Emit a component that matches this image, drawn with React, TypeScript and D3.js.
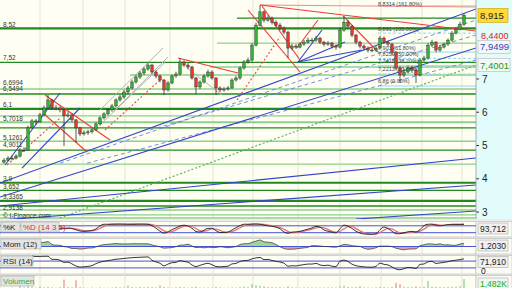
import React from "react";
import * as d3 from "d3";

// ---------- DATA ----------
const firstOpen = 4.5;
const closes = [
  4.56, 4.62, 4.62, 4.68, 4.86, 4.86, 5.53, 5.74, 5.71, 5.92,
  6.13, 6.37, 6.13, 6.13, 6.07, 5.89, 5.92, 5.77, 5.53, 5.35,
  5.38, 5.41, 5.47, 5.65, 5.83, 5.95, 6.07, 6.19, 6.37, 6.46,
  6.61, 6.73, 6.91, 7.06, 7.18, 7.30, 7.42, 7.21, 7.09, 6.97,
  6.67, 6.88, 7.09, 7.15, 7.51, 7.42, 7.36, 7.03, 6.76, 6.91,
  7.09, 7.21, 7.03, 6.73, 6.67, 6.70, 6.73, 6.97, 7.03, 7.33,
  7.51, 7.57, 8.02, 8.62, 9.02, 8.77, 8.83, 8.71, 8.62, 8.53,
  8.41, 7.93, 7.99, 7.96, 8.05, 8.11, 8.17, 8.17, 8.23, 8.11,
  8.05, 8.08, 7.99, 7.96, 8.47, 8.71, 8.59, 8.32, 8.11, 7.99,
  7.93, 7.87, 7.87, 7.93, 8.23, 8.11, 8.05, 7.81, 7.33, 7.12,
  7.21, 7.33, 7.27, 7.12, 7.57, 7.63, 8.02, 8.11, 7.87, 7.96,
  8.05, 8.17, 8.38, 8.50, 8.65, 8.915,
];
const highs = [
  4.62, 4.68, 4.70, 4.74, 4.92, 4.95, 5.60, 5.80, 5.80, 5.98,
  6.20, 6.52, 6.40, 6.22, 6.18, 6.10, 6.02, 5.96, 5.80, 5.56,
  5.45, 5.48, 5.52, 5.70, 5.88, 6.00, 6.12, 6.25, 6.42, 6.52,
  6.68, 6.80, 6.98, 7.12, 7.24, 7.36, 7.51, 7.46, 7.26, 7.14,
  7.00, 6.94, 7.14, 7.22, 7.63, 7.56, 7.48, 7.40, 7.06, 6.96,
  7.14, 7.28, 7.26, 7.06, 6.78, 6.76, 6.79, 7.02, 7.09, 7.38,
  7.57, 7.64, 8.08, 8.70, 9.22, 9.06, 8.92, 8.88, 8.76, 8.68,
  8.58, 8.45, 8.06, 8.05, 8.10, 8.17, 8.24, 8.24, 8.30, 8.27,
  8.15, 8.14, 8.12, 8.04, 8.54, 8.89, 8.78, 8.62, 8.36, 8.15,
  8.04, 7.98, 7.94, 7.98, 8.30, 8.28, 8.15, 8.08, 7.84, 7.38,
  7.30, 7.40, 7.40, 7.32, 7.62, 7.70, 8.08, 8.18, 8.14, 8.02,
  8.10, 8.22, 8.44, 8.56, 8.72, 8.98,
];
const lows = [
  4.46, 4.52, 4.55, 4.58, 4.64, 4.80, 4.84, 5.50, 5.62, 5.68,
  5.88, 6.10, 6.08, 6.06, 6.00, 4.98, 5.84, 5.70, 5.08, 5.28,
  5.30, 5.32, 5.36, 5.44, 5.60, 5.78, 5.90, 6.02, 6.15, 6.32,
  6.40, 6.55, 6.68, 6.86, 7.00, 7.12, 7.25, 7.15, 7.02, 6.90,
  6.52, 6.62, 6.84, 7.04, 7.10, 7.36, 7.30, 6.98, 6.55, 6.70,
  6.86, 7.04, 6.98, 6.52, 6.60, 6.62, 6.65, 6.70, 6.92, 6.98,
  7.28, 7.46, 7.52, 7.98, 8.58, 8.70, 8.72, 8.64, 8.56, 8.46,
  8.34, 7.63, 7.86, 7.90, 7.92, 8.00, 8.06, 8.10, 8.12, 8.05,
  7.98, 8.00, 7.92, 7.88, 7.92, 8.42, 8.52, 8.26, 8.04, 7.92,
  7.86, 7.80, 7.80, 7.82, 7.90, 8.05, 7.98, 7.72, 7.26, 6.88,
  7.05, 7.16, 7.18, 6.88, 7.08, 7.52, 7.58, 7.96, 7.80, 7.82,
  7.92, 8.00, 8.12, 8.34, 8.46, 8.60,
];
const volumes = [
  180, 150, 220, 160, 600, 260, 420, 300, 200, 380,
  260, 320, 240, 200, 260, 1400, 300, 240, 1300, 280,
  200, 180, 220, 160, 240, 200, 180, 220, 300, 260,
  240, 520, 280, 240, 300, 260, 320, 280, 240, 520,
  300, 220, 200, 260, 300, 240, 200, 280, 340, 220,
  200, 240, 200, 300, 220, 180, 200, 240, 220, 300,
  360, 320, 700, 560, 480, 380, 300, 260, 240, 280,
  220, 400, 260, 220, 200, 240, 260, 220, 240, 200,
  220, 260, 240, 200, 380, 500, 300, 260, 280, 420,
  240, 220, 200, 240, 300, 260, 220, 300, 900, 700,
  320, 280, 260, 400, 300, 360, 1200, 380, 300, 280,
  260, 300, 340, 360, 420, 1482,
];
// date-boundary grid (candle index)
const gridIdx = [9, 19.75, 30.25, 41.5, 52.25, 62.25, 73.5, 84, 94.25, 104.5, 114.5];

// horizontal support / resistance levels: price, start index, kind
const levelPrices = [8.83, 8.52, 8.08, 7.50, 7.36, 7.12, 6.6994, 6.5494, 6.1, 5.89, 5.7018, 5.53, 5.1261, 4.86, 4.44, 3.88, 3.652, 3.3365, 3.18, 3.06, 2.9138, 2.82];
const levelStart = [58.25, -1, 53.25, -1, 51.5, 31.5, -1, -1, -1, -1, -1, -1, -1, -1, -1, -1, -1, -1, -1, -1, -1, -1];
const levelKind = ["d", "t", "l", "d", "l", "l", "l", "d", "t", "l", "L", "d", "l", "d", "l", "t", "d", "t", "d", "l", "l", "l"];
const leftLabels = ["8,52", "7,52", "6,6994", "6,5494", "6,1", "5,7018", "5,1261", "4,9011", "3,9", "3,652", "3,3365", "2,9138"];
const leftLabelPrices = [8.52, 7.52, 6.76, 6.58, 6.1, 5.7018, 5.1261, 4.9011, 3.9, 3.652, 3.3365, 3.015];

// fibonacci block
const fibPrices = [9.20, 8.38, 7.81, 7.62, 7.40, 7.15, 6.79];
const fibLabels = ["8,8314 (161.80%)", "8,891 (100.00%)", "7,901 (61.80%)", "7,8259 (50.00%)", "7,7418 (38.20%)", "7,2213 (23.60%)", "6,86 (0.00%)"];
const fibLabelPrices = [9.20, 8.44, 7.87, 7.69, 7.47, 7.24, 6.88];

// trend lines [i1, p1, i2, p2]
const blueLines = [
  [-1, 3.872, 118, 9.105], [-1, 3.451, 118, 7.932], [-1, 3.18, 118, 4.624],
  [-1, 2.759, 118, 3.812], [88, 2.789, 118, 3.03], [0.25, 4.414, 14, 6.579],
  [4.5, 4.323, 19, 6.128], [73.5, 7.511, 79.5, 8.474], [73.5, 7.511, 85.25, 8.113],
  [73.5, 7.511, 89.5, 7.872],
];
const blueDashed = [
  [14, 4.466, 118, 8.774], [20.75, 4.466, 118, 7.571], [36.5, 5.466, 118, 8.324],
];
const redLines = [
  [64, 9.226, 118, 8.444], [64.5, 9.195, 74, 7.571], [61, 9.075, 74, 7.211],
  [84.75, 8.895, 93.5, 7.812], [73.25, 7.932, 78.5, 8.774], [10.25, 6.519, 26.5, 5.165],
  [9.75, 5.978, 20.75, 4.805], [43.5, 7.632, 58.5, 7.18],
];
const redLight = [[64, 9.226, 118, 9.165]];
const redDotted = [
  [0.75, 4.414, 14, 5.827], [25.25, 5.466, 39, 6.97], [58.25, 6.368, 69, 8.263],
];
const greenDotted = [[14, 2.82, 118, 7.42]];
const grayLines = [
  [24, 6.068, 39.75, 7.932], [27.25, 6.008, 41, 7.662], [24, 5.616, 40.25, 7.496],
  [45.75, 7.331, 54.5, 6.519],
];
const rightTicks = [7, 6, 5, 4, 3];

// ---------- helpers ----------
const sma = (a: (number | null)[], p: number) =>
  a.map((_, i) => {
    if (i < p - 1) return null;
    const s = a.slice(i - p + 1, i + 1);
    if (s.some((v) => v == null)) return null;
    return d3.mean(s as number[]) as number;
  });

export default function App() {
  const W = 512, H = 288, R = 476, mainB = 219;
  const n = closes.length;
  const opens = closes.map((c, i) => (i === 0 ? firstOpen : closes[i - 1]));
  const x = d3.scaleLinear().domain([0, n - 1]).range([4, 464]);
  const y = d3.scaleLinear().domain([3, 7]).range([212, 79]);

  // indicators
  const kP = 7;
  const raw = closes.map((c, i) => {
    if (i < kP - 1) return null;
    const hh = d3.max(highs.slice(i - kP + 1, i + 1)) as number;
    const ll = d3.min(lows.slice(i - kP + 1, i + 1)) as number;
    return (100 * (c - ll)) / (hh - ll);
  });
  const kLine = sma(raw, 2);
  const dLine = sma(kLine, 3);
  const mom = closes.map((c, i) => (i < 6 ? null : c - closes[i - 6]));
  const rsi: (number | null)[] = [];
  let ag = 0, al = 0;
  const rP = 7;
  closes.forEach((c, i) => {
    if (i === 0) { rsi.push(null); return; }
    const ch = c - closes[i - 1];
    const g = Math.max(ch, 0), l = Math.max(-ch, 0);
    if (i <= rP) {
      ag += g / rP; al += l / rP;
      rsi.push(i === rP ? 100 - 100 / (1 + ag / (al || 1e-6)) : null);
    } else {
      ag = (ag * (rP - 1) + g) / rP;
      al = (al * (rP - 1) + l) / rP;
      rsi.push(100 - 100 / (1 + ag / (al || 1e-6)));
    }
  });

  const ySt = d3.scaleLinear().domain([0, 100]).range([235, 223.5]);
  const mMax = d3.max(mom, (v) => (v == null ? 0 : Math.abs(v))) as number;
  const yMom = d3.scaleLinear().domain([-mMax, mMax]).range([253, 240]);
  const yRsi = d3.scaleLinear().domain([0, 100]).range([273, 256]);
  const yVol = d3.scaleLinear().domain([0, d3.max(volumes) as number]).range([289, 279]);

  const lineGen = (ys: d3.ScaleLinear<number, number>) =>
    d3.line<number | null>()
      .defined((d) => d != null)
      .x((_, i) => x(i))
      .y((d) => ys(d as number))
      .curve(d3.curveMonotoneX);

  const momAreaPos = d3.area<number | null>()
    .defined((d) => d != null).x((_, i) => x(i))
    .y0(yMom(0)).y1((d) => yMom(Math.max(d as number, 0)));
  const momAreaNeg = d3.area<number | null>()
    .defined((d) => d != null).x((_, i) => x(i))
    .y0(yMom(0)).y1((d) => yMom(Math.min(d as number, 0)));

  const seg = (l: number[], key: string, stroke: string, w: number, dash?: string, op = 1) => (
    <line key={key} x1={x(l[0])} y1={y(l[1])} x2={x(l[2])} y2={y(l[3])}
      stroke={stroke} strokeWidth={w} strokeDasharray={dash} opacity={op} />
  );

  const font = "Liberation Sans, Arial, sans-serif";
  const panels = [
    { t: 221.5, b: 237 },
    { t: 238.5, b: 254 },
    { t: 255.5, b: 274 },
    { t: 275.5, b: 292 },
  ];

  return (
    <svg width={W} height={H} style={{ position: "absolute", left: 0, top: 0 }} fontFamily={font}>
      <rect x={0} y={0} width={W} height={H} fill="#ececec" />
      {/* main panel */}
      <rect x={0} y={0} width={R} height={mainB} fill="#fefef3" />
      <rect x={R} y={0} width={W - R} height={mainB} fill="#e2fcfc" />
      {panels.map((p, i) => (
        <g key={"pn" + i}>
          <rect x={0} y={p.t} width={R} height={p.b - p.t} fill="#fefef3" stroke="#c8c8c8" strokeWidth={0.8} />
          <rect x={R} y={p.t} width={W - R} height={p.b - p.t} fill="#fcfcf6" stroke="#c8c8c8" strokeWidth={0.8} />
        </g>
      ))}
      {/* vertical grid */}
      {gridIdx.map((g, i) => (
        <g key={"g" + i}>
          <line x1={x(g)} x2={x(g)} y1={0} y2={mainB} stroke="#e6e4d6" strokeWidth={1} />
          {panels.map((p, j) => (
            <line key={j} x1={x(g)} x2={x(g)} y1={p.t} y2={p.b} stroke="#e6e4d6" strokeWidth={1} />
          ))}
        </g>
      ))}
      <defs>
        <clipPath id="mc"><rect x={0} y={0} width={R} height={mainB} /></clipPath>
      </defs>
      <g clipPath="url(#mc)">
        {/* horizontal levels */}
        {levelPrices.map((p, i) => {
          const k = levelKind[i];
          const stroke = k === "l" || k === "L" ? "#8fcf8a" : "#1f8a1f";
          const w = k === "t" ? 2.2 : k === "L" ? 2 : k === "d" ? 1.3 : 1.4;
          return <line key={"lv" + i} x1={x(levelStart[i])} x2={R} y1={y(p)} y2={y(p)} stroke={stroke} strokeWidth={w} />;
        })}
        {/* fib lines */}
        {fibPrices.map((p, i) => (
          <line key={"fb" + i} x1={x(93.5)} x2={R} y1={y(p)} y2={y(p)} stroke="#8fd8f4" strokeWidth={1}
            strokeDasharray={i % 2 === 0 ? undefined : "3,2"} />
        ))}
        {grayLines.map((l, i) => seg(l, "gr" + i, "#b4b4b4", 1))}
        {greenDotted.map((l, i) => seg(l, "gd" + i, "#5cb85c", 1.2, "2,2"))}
        {blueDashed.map((l, i) => seg(l, "bd" + i, "#5577dd", 1, "4,3", 0.8))}
        {blueLines.map((l, i) => seg(l, "bl" + i, "#3344cc", 1.1))}
        {redDotted.map((l, i) => seg(l, "rd" + i, "#e84848", 1.1, "2,2"))}
        {redLight.map((l, i) => seg(l, "rl" + i, "#f08a8a", 1.2))}
        {redLines.map((l, i) => seg(l, "r" + i, "#ee3a3a", 1.1))}
        {/* candles */}
        {closes.map((c, i) => {
          const o = opens[i];
          const up = c >= o;
          const top = y(Math.max(o, c)), bot = y(Math.min(o, c));
          return (
            <g key={"c" + i}>
              <line x1={x(i)} x2={x(i)} y1={y(highs[i])} y2={y(lows[i])} stroke="#333" strokeWidth={0.8} />
              <rect x={x(i) - 1.3} y={top} width={2.6} height={Math.max(bot - top, 0.8)}
                fill={up ? "#33b233" : "#e03a2a"} stroke="#2a2a2a" strokeWidth={0.4} />
            </g>
          );
        })}
        {/* left labels */}
        {leftLabels.map((t, i) => (
          <text key={"ll" + i} x={3} y={y(leftLabelPrices[i]) - 1.5} fontSize={6.5} fill="#333">{t}</text>
        ))}
        {fibLabels.map((t, i) => (
          <text key={"fl" + i} x={x(93.5)} y={y(fibLabelPrices[i])} fontSize={5.5} fill="#444">{t}</text>
        ))}
        <text x={3} y={217.5} fontSize={6.5} fill="#333">© I-Finance.com</text>
      </g>
      {/* right axis main */}
      {rightTicks.map((t) => (
        <g key={"rt" + t}>
          <line x1={R} x2={R + 3} y1={y(t)} y2={y(t)} stroke="#333" />
          <text x={R + 6} y={y(t) + 3.5} fontSize={10} fill="#222">{t}</text>
        </g>
      ))}
      <line x1={R} x2={R} y1={0} y2={mainB} stroke="#9a9a9a" strokeWidth={0.8} />
      <text x={R + 5} y={y(7.9499) - 8} fontSize={9} fill="#e02020">8,4400</text>
      <rect x={R + 2} y={y(7.9499) - 7} width={32} height={13} fill="#f4f8f8" stroke="#b8b8b8" strokeWidth={0.6} />
      <text x={R + 4} y={y(7.9499) + 3} fontSize={9.5} fill="#3344bb">7,9499</text>
      <rect x={R + 2} y={y(7.4001) - 7} width={32} height={13} fill="#f4f8f4" stroke="#b8b8b8" strokeWidth={0.6} />
      <text x={R + 4} y={y(7.4001) + 3} fontSize={9.5} fill="#229922">7,4001</text>
      <rect x={R + 2} y={y(8.915) - 7} width={30} height={14} fill="#ffd83a" stroke="#caa000" strokeWidth={0.6} />
      <text x={R + 4} y={y(8.915) + 3.5} fontSize={9.5} fill="#222">8,915</text>

      {/* Stochastic */}
      <line x1={0} x2={R} y1={ySt(80)} y2={ySt(80)} stroke="#4455dd" strokeWidth={1} />
      <line x1={0} x2={R} y1={ySt(20)} y2={ySt(20)} stroke="#4455dd" strokeWidth={1} />
      <path d={lineGen(ySt)(dLine) || ""} fill="none" stroke="#f07070" strokeWidth={1.3} />
      <path d={lineGen(ySt)(kLine) || ""} fill="none" stroke="#222" strokeWidth={0.9} />
      <rect x={1} y={222} width={19} height={10} fill="#e4e4e4" stroke="#aaa" strokeWidth={0.6} />
      <text x={3} y={230} fontSize={8} fill="#222">%K</text>
      <rect x={21} y={222} width={38} height={10} fill="#e4e4e4" stroke="#aaa" strokeWidth={0.6} />
      <text x={23} y={230} fontSize={8} fill="#e03030">%D (14 3 5)</text>
      <rect x={R + 2} y={223} width={30} height={11} fill="#f0f0f0" stroke="#aaa" strokeWidth={0.6} />
      <text x={R + 4} y={231.5} fontSize={8.5} fill="#222">93,712</text>

      {/* Momentum */}
      <path d={momAreaPos(mom) || ""} fill="#9fd49a" />
      <path d={momAreaNeg(mom) || ""} fill="#e6a0a0" />
      <line x1={0} x2={R} y1={yMom(0)} y2={yMom(0)} stroke="#4455dd" strokeWidth={1} />
      <path d={lineGen(yMom)(mom) || ""} fill="none" stroke="#333" strokeWidth={0.7} />
      <rect x={1} y={239} width={40} height={10} fill="#e4e4e4" stroke="#aaa" strokeWidth={0.6} />
      <text x={3} y={247} fontSize={8} fill="#222">Mom (12)</text>
      <rect x={R + 2} y={240} width={30} height={11} fill="#f0f0f0" stroke="#aaa" strokeWidth={0.6} />
      <text x={R + 4} y={248.5} fontSize={8.5} fill="#222">1,2030</text>

      {/* RSI */}
      <line x1={0} x2={R} y1={yRsi(70)} y2={yRsi(70)} stroke="#4455dd" strokeWidth={1} />
      <line x1={0} x2={R} y1={yRsi(30)} y2={yRsi(30)} stroke="#4455dd" strokeWidth={1} />
      <path d={lineGen(yRsi)(rsi) || ""} fill="none" stroke="#222" strokeWidth={0.9} />
      <rect x={1} y={256} width={32} height={10} fill="#e4e4e4" stroke="#aaa" strokeWidth={0.6} />
      <text x={3} y={264} fontSize={8} fill="#222">RSI (14)</text>
      <rect x={R + 2} y={256.5} width={30} height={11} fill="#f0f0f0" stroke="#aaa" strokeWidth={0.6} />
      <text x={R + 4} y={265} fontSize={8.5} fill="#222">71,910</text>
      <text x={R + 5} y={274} fontSize={8.5} fill="#222">0</text>

      {/* Volume */}
      {volumes.map((v, i) => (
        <line key={"v" + i} x1={x(i)} x2={x(i)} y1={yVol(0)} y2={yVol(v)}
          stroke={closes[i] >= opens[i] ? "#44bb44" : "#e05050"} strokeWidth={1} opacity={0.8} />
      ))}
      <rect x={1} y={276} width={33} height={10} fill="#e4e4e4" stroke="#aaa" strokeWidth={0.6} />
      <text x={3} y={284} fontSize={8} fill="#33aa33">Volumen</text>
      <rect x={R + 2} y={278} width={30} height={11} fill="#eef8ee" stroke="#aaa" strokeWidth={0.6} />
      <text x={R + 4} y={286.5} fontSize={8.5} fill="#22aa22">1,482K</text>
    </svg>
  );
}
